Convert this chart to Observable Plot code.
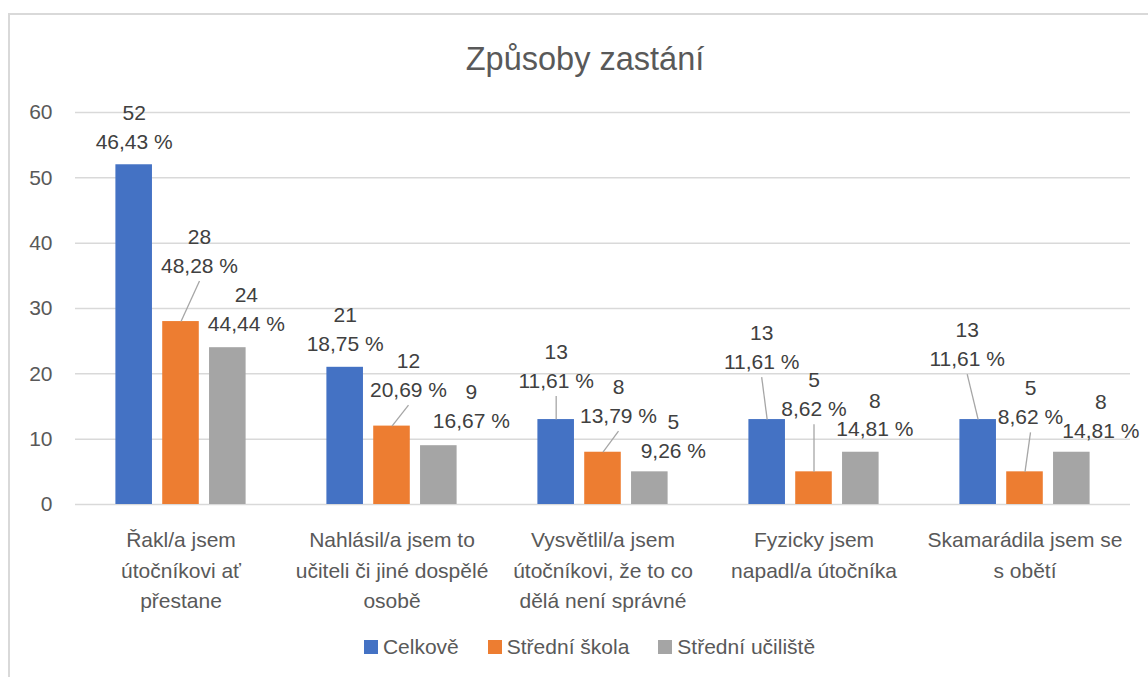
<!DOCTYPE html>
<html>
<head>
<meta charset="utf-8">
<script src="https://cdn.jsdelivr.net/npm/d3@7"></script>
<script src="https://cdn.jsdelivr.net/npm/@observablehq/plot@0.6"></script>
<style>
  html, body { margin: 0; padding: 0; background: #fff; }
  body { font-family: "Liberation Sans", Arial, sans-serif; }
  #frame { position: relative; width: 1148px; height: 677px; overflow: hidden; background: #fff; }
  #border { position: absolute; left: 8px; top: 13px; width: 1200px; height: 700px;
            border-left: 2px solid #d9d9d9; border-top: 2px solid #d9d9d9; box-sizing: border-box; }
  #title { position: absolute; left: 0; width: 1170px; top: 41px; text-align: center;
           font-size: 32.5px; line-height: 36px; color: #595959; }
  #chart { position: absolute; left: 0; top: 0; }
  #legend { position: absolute; left: 0; width: 1179px; top: 633px; display: flex;
            justify-content: center; align-items: center; font-size: 21px; color: #595959; line-height: 28px; }
  .item { display: flex; align-items: center; margin-right: 29px; }
  .item:last-child { margin-right: 0; }
  .sw { width: 14px; height: 14px; margin-right: 5px; }
</style>
</head>
<body>
<div id="frame">
  <div id="border"></div>
  <div id="title">Způsoby zastání</div>
  <div id="chart"></div>
  <div id="legend"></div>
</div>
<script>
// ---- data ----
const categories = [
  "Řakl/a jsem útočníkovi ať přestane",
  "Nahlásil/a jsem to učiteli či jiné dospělé osobě",
  "Vysvětlil/a jsem útočníkovi, že to co dělá není správné",
  "Fyzicky jsem napadl/a útočníka",
  "Skamarádila jsem se s obětí"
];
const categoryLines = [
  "Řakl/a jsem\nútočníkovi ať\npřestane",
  "Nahlásil/a jsem to\nučiteli či jiné dospělé\nosobě",
  "Vysvětlil/a jsem\nútočníkovi, že to co\ndělá není správné",
  "Fyzicky jsem\nnapadl/a útočníka",
  "Skamarádila jsem se\ns obětí"
];
const series = ["Celkově", "Střední škola", "Střední učiliště"];
const colors = ["#4472C4", "#ED7D31", "#A5A5A5"];
const celkove = [52, 21, 13, 13, 13];
const stredniSkola = [28, 12, 8, 5, 5];
const stredniUciliste = [24, 9, 5, 8, 8];
const celkovePct = [46.43, 18.75, 11.61, 11.61, 11.61];
const stredniSkolaPct = [48.28, 20.69, 13.79, 8.62, 8.62];
const stredniUcilistePct = [44.44, 16.67, 9.26, 14.81, 14.81];
const yTicks = [0, 10, 20, 30, 40, 50, 60];

// ---- label layout (pixel offsets of label block centre from bar top centre) ----
const labelDx = [
  [0, 0, 0, -5.5, -11],
  [18.5, 16.5, 15.5, 0, 5.5],
  [18.5, 32.5, 23.5, 14, 29]
];
const labelDy = [
  [-39.5, -40, -55.5, -74.5, -77.5],
  [-72.5, -53, -53, -79.5, -71.5],
  [-40.5, -41.5, -37.5, -39.5, -38]
];
const hasLeader = [
  [0, 0, 1, 1, 1],
  [1, 1, 1, 1, 1],
  [0, 0, 0, 0, 0]
];
const leaderGap = 32;

const counts = [celkove, stredniSkola, stredniUciliste];
const pcts = [celkovePct, stredniSkolaPct, stredniUcilistePct];
const fmtPct = v => v.toFixed(2).replace(".", ",") + " %";

const rows = categories.flatMap((cat, i) => series.map((s, j) => ({
  cat, series: s, value: counts[j][i], pct: pcts[j][i],
  dx: labelDx[j][i], dy: labelDy[j][i], leader: hasLeader[j][i]
})));
const leaderRows = rows.filter(r => r.leader);

const textColor = "#404040";
const axisColor = "#595959";
const fontSize = 21;

const marks = [
  Plot.ruleY(yTicks, {stroke: "#d9d9d9", strokeWidth: 1.5}),
  Plot.axisY({ticks: yTicks, tickSize: 0, tickPadding: 23, fontSize, fill: axisColor}),
  Plot.barY(rows, {fx: "cat", x: "series", y: "value", fill: "series"}),
  Plot.link(leaderRows, {
    fx: "cat", x1: "series", x2: "series", y1: "value", y2: "value",
    stroke: "#a6a6a6", strokeWidth: 1.3,
    render(index, scales, values, dimensions, context, next) {
      const X2 = Float64Array.from(values.x2, (x, k) => x + leaderRows[k].dx);
      const Y2 = Float64Array.from(values.y2, (y, k) => y + leaderRows[k].dy + leaderGap);
      return next(index, scales, {...values, x2: X2, y2: Y2}, dimensions, context);
    }
  }),
  ...rows.map(r => Plot.text([r], {
    fx: "cat", x: "series", y: "value",
    text: d => `${d.value}\n${fmtPct(d.pct)}`,
    dx: r.dx, dy: r.dy, lineAnchor: "middle", lineHeight: 1.38,
    fill: textColor, fontSize
  })),
  Plot.text(categories, {
    fx: d => d, text: (d, i) => categoryLines[i],
    frameAnchor: "bottom", lineAnchor: "top", dy: 20, lineHeight: 1.476,
    fill: axisColor, fontSize
  })
];

const chart = Plot.plot({
  width: 1148,
  height: 677,
  marginTop: 112,
  marginBottom: 173,
  marginLeft: 73,
  marginRight: 16,
  style: {fontFamily: '"Liberation Sans", Arial, sans-serif', fontSize: "21px", background: "transparent", overflow: "visible"},
  fx: {domain: categories, padding: 0, axis: null, label: null},
  x: {domain: series, paddingInner: 0.219, paddingOuter: 0.8627, round: false, axis: null, label: null},
  y: {domain: [0, 60], axis: null, label: null},
  color: {domain: series, range: colors},
  marks
});
document.getElementById("chart").appendChild(chart);

// ---- legend ----
const legend = document.getElementById("legend");
series.forEach((s, j) => {
  const item = document.createElement("div");
  item.className = "item";
  const sw = document.createElement("div");
  sw.className = "sw";
  sw.style.background = colors[j];
  const label = document.createElement("span");
  label.textContent = s;
  item.appendChild(sw);
  item.appendChild(label);
  legend.appendChild(item);
});
</script>
</body>
</html>
